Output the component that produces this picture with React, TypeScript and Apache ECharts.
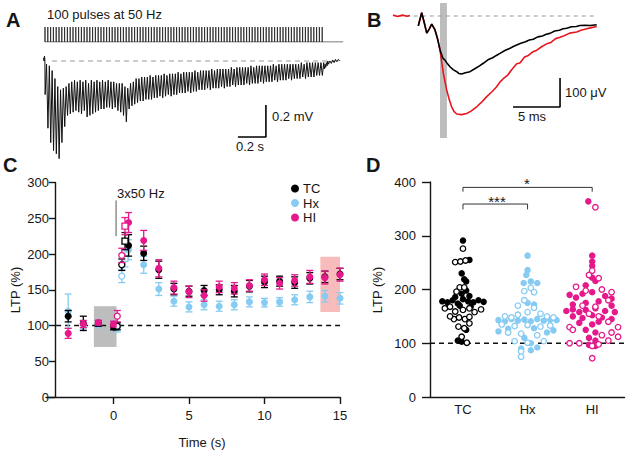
import React, { useEffect, useRef } from 'react';
import * as echarts from 'echarts';

const FONT = '"Liberation Sans", Arial, Helvetica, sans-serif';
const INK = '#161616';
const BLUE = '#86cbf2';
const PINK = '#e5198b';
const RED = '#e8161e';

// ---------- Panel A: 100 pulses at 50 Hz ----------
const PULSE_COUNT = 100;
const PULSE_INTERVAL_MS = 20;
// per-pulse trough (most negative) and recovery peak, mV
const traceTroughs = [
  -0.21, -0.42, -0.51, -0.56, -0.58, -0.61, -0.51, -0.41, -0.34, -0.33,
  -0.32, -0.31, -0.32, -0.33, -0.31, -0.35, -0.34, -0.33, -0.32, -0.31,
  -0.30, -0.30, -0.29, -0.29, -0.30, -0.29, -0.31, -0.32, -0.34, -0.38,
  -0.30, -0.28, -0.27, -0.26, -0.25, -0.25, -0.24, -0.24, -0.24, -0.23,
  -0.23, -0.22, -0.23, -0.22, -0.21, -0.22, -0.21, -0.21, -0.20, -0.20,
  -0.20, -0.19, -0.20, -0.19, -0.19, -0.18, -0.18, -0.18, -0.17, -0.18,
  -0.17, -0.17, -0.17, -0.16, -0.17, -0.16, -0.16, -0.15, -0.16, -0.15,
  -0.15, -0.15, -0.14, -0.15, -0.14, -0.14, -0.14, -0.13, -0.14, -0.13,
  -0.13, -0.13, -0.12, -0.13, -0.12, -0.12, -0.12, -0.11, -0.12, -0.11,
  -0.11, -0.11, -0.10, -0.11, -0.10, -0.10, -0.10, -0.09, -0.09, -0.09,
];
const tracePeaks = [
  -0.02, -0.03, -0.06, -0.11, -0.16, -0.18, -0.17, -0.16, -0.14, -0.13,
  -0.12, -0.13, -0.12, -0.13, -0.12, -0.14, -0.12, -0.13, -0.12, -0.13,
  -0.12, -0.13, -0.12, -0.13, -0.13, -0.14, -0.14, -0.14, -0.16, -0.17,
  -0.14, -0.13, -0.11, -0.11, -0.10, -0.10, -0.10, -0.09, -0.10, -0.09,
  -0.09, -0.09, -0.08, -0.09, -0.08, -0.08, -0.08, -0.07, -0.08, -0.07,
  -0.07, -0.07, -0.07, -0.06, -0.07, -0.06, -0.06, -0.06, -0.06, -0.05,
  -0.06, -0.05, -0.05, -0.05, -0.05, -0.05, -0.04, -0.05, -0.04, -0.04,
  -0.04, -0.04, -0.04, -0.03, -0.04, -0.03, -0.03, -0.03, -0.03, -0.03,
  -0.03, -0.02, -0.03, -0.02, -0.02, -0.02, -0.02, -0.02, -0.02, -0.02,
  -0.02, -0.01, -0.02, -0.01, -0.01, -0.01, -0.01, -0.01, -0.01, -0.01,
];
const traceStart = [[-10, 0.02], [-7, 0.0], [-4, 0.03], [-1, 0.01]];
const traceTail = [
  [1990, -0.03], [1995, -0.05], [2000, -0.02], [2005, -0.04], [2010, -0.01], [2015, -0.03],
  [2020, 0.0], [2025, -0.02], [2035, 0.0], [2045, -0.015], [2055, 0.005], [2065, -0.01],
  [2075, 0.01], [2085, -0.005], [2095, 0.01], [2105, 0.0],
];
const scaleBarA = [[1378, -0.475], [1578, -0.475], [1578, -0.275]];

// ---------- Panel B: fEPSP traces (ms, µV) ----------
const preRed = [[0, 3], [0.5, -2], [1, 3], [1.5, -1], [1.8, 2]];
const fepspRed = [
  [2.69, -34], [3.05, 11], [3.3, -20], [3.59, -59], [3.85, -45], [4.12, -28], [4.47, -48],
  [4.75, -80], [5.0, -117], [5.35, -197], [5.71, -255], [6.0, -290], [6.24, -313], [6.5, -330],
  [6.78, -338], [7.3, -340], [7.84, -336], [8.3, -328], [8.9, -313], [9.4, -298], [9.97, -278],
  [10.5, -262], [11.0, -245], [11.4, -227], [11.8, -214], [12.2, -204], [12.6, -186], [13.16, -165],
  [13.5, -162], [14.0, -141], [14.4, -136], [14.9, -123], [15.3, -118], [15.8, -106], [16.35, -96],
  [16.8, -91], [17.3, -78], [17.77, -73], [18.2, -68], [18.8, -59], [19.54, -55], [20.0, -49],
  [20.5, -45], [21.0, -41], [21.67, -36],
];
const fepspBlack = [
  [2.69, -34], [3.05, 11], [3.3, -20], [3.59, -59], [3.85, -45], [4.12, -28], [4.47, -48],
  [4.75, -80], [5.0, -117], [5.3, -145], [5.53, -152], [5.8, -165], [6.06, -175], [6.4, -185],
  [6.78, -192], [7.0, -198], [7.31, -200], [7.7, -196], [8.19, -192], [8.7, -182], [9.2, -172],
  [9.61, -163], [10.1, -151], [10.6, -144], [11.0, -136], [11.38, -129], [11.9, -119], [12.4, -112],
  [12.8, -105], [13.16, -100], [13.6, -94], [14.1, -89], [14.5, -83], [14.93, -80], [15.4, -72],
  [15.9, -69], [16.3, -63], [16.7, -60], [17.2, -52], [17.7, -49], [18.1, -44], [18.48, -42],
  [19.0, -37], [19.5, -36], [19.89, -33], [20.4, -32], [21.0, -33], [21.67, -30],
];
const scaleBarB = [[12.77, -314], [17.77, -314], [17.77, -214]];
const stimWindowB = [5.0, 5.74];

// ---------- Panel C: LTP time course ----------
const timePoints = [-3, -2, -1, 0, 1, 2, 3, 4, 5, 6, 7, 8, 9, 10, 11, 12, 13, 14, 15];
const tcMean = [113, 103, 103, 98, 212, 201, 178, 151, 148, 149, 150, 148, 155, 161, 162, 160, 166, 168, 172];
const tcSem = [8, 10, 4, 4, 15, 10, 12, 8, 7, 7, 7, 8, 8, 8, 7, 8, 8, 8, 8];
const hxMean = [120, 101, 101, 100, 206, 185, 151, 134, 126, 129, 127, 129, 133, 132, 133, 136, 140, 141, 138];
const hxSem = [24, 6, 4, 6, 14, 12, 9, 7, 7, 7, 7, 7, 7, 6, 6, 7, 8, 8, 8];
const hiMean = [89, 102, 104, 102, 244, 219, 180, 153, 147, 142, 154, 152, 156, 164, 159, 163, 168, 167, 171];
const hiSem = [7, 5, 3, 4, 14, 14, 12, 9, 8, 8, 8, 8, 8, 8, 8, 8, 9, 9, 9];
// responses to the three 50 Hz bursts (open symbols)
const burstTimes = [0.25, 0.55, 0.76];
const tcBurst = [99, 185, 218];
const tcBurstSem = [5, 8, 12];
const hxBurst = [97, 169, 194];
const hxBurstSem = [6, 9, 12];
const hiBurst = [113, 198, 239];
const hiBurstSem = [8, 10, 12];
const baselineWindow = [-1.3, 0.2, 70, 127];
const ltpWindow = [13.7, 15.1, 119, 196];
const stimMarkC = [[0.17, 275], [0.17, 225]];

// ---------- Panel D: individual LTP values [jitter, LTP %] ----------
const groups = ['TC', 'Hx', 'HI'];
const tcFilled = [[0, 291], [0.1, 255], [-0.02, 230], [0.02, 219], [0.05, 215], [0.05, 198], [-0.02, 192], [-0.32, 178], [-0.24, 176], [-0.16, 180], [-0.08, 174], [0, 182], [0.08, 178], [0.16, 176], [0.24, 180], [0.32, 177], [-0.12, 186], [0.1, 188], [-0.05, 170], [0.12, 168], [0.05, 125], [-0.08, 105], [-0.02, 103]];
const tcOpen = [[0, 276], [-0.12, 251], [-0.04, 252], [0.04, 254], [-0.05, 204], [0.02, 204], [-0.1, 196], [-0.28, 165], [-0.2, 168], [-0.12, 159], [0, 162], [0.1, 165], [0.18, 158], [0.28, 163], [-0.14, 145], [-0.06, 148], [0.03, 145], [0.1, 149], [-0.2, 150], [-0.07, 131], [0.02, 128], [0.06, 101], [0.1, 137], [-0.02, 112]];
const hxFilled = [[0, 263], [0, 236], [-0.02, 227], [0.05, 215], [0.15, 212], [-0.06, 212], [0.1, 172], [0, 175], [-0.45, 143], [-0.35, 141], [-0.25, 145], [-0.15, 142], [-0.05, 144], [0.05, 141], [0.15, 145], [0.25, 142], [0.35, 144], [0.45, 143], [-0.45, 122], [-0.3, 127], [0.1, 128], [0.3, 120], [0.4, 124], [-0.05, 110], [0.05, 100], [-0.1, 90], [0.05, 87], [0.15, 92]];
const hxOpen = [[0.05, 203], [-0.05, 197], [0.1, 195], [-0.05, 180], [-0.15, 170], [0.1, 166], [0, 158], [-0.35, 150], [-0.25, 148], [-0.15, 153], [0.2, 155], [0.3, 150], [0.4, 148], [-0.4, 135], [-0.2, 132], [0, 134], [0.2, 131], [0.35, 133], [-0.3, 120], [-0.1, 118], [0.15, 115], [-0.2, 104], [0.25, 104], [0, 101], [-0.1, 85], [-0.1, 75]];
const hiFilled = [[-0.06, 364], [0, 263], [0, 252], [0, 244], [0, 222], [0.05, 216], [-0.1, 208], [-0.35, 190], [-0.25, 185], [-0.15, 192], [0, 195], [0.2, 188], [0.3, 183], [-0.3, 172], [-0.1, 175], [0.1, 178], [0.3, 170], [-0.4, 160], [-0.3, 163], [-0.2, 158], [-0.1, 162], [0.05, 165], [0.2, 160], [0.35, 158], [-0.3, 150], [-0.15, 147], [0, 152], [0.15, 148], [0.3, 145], [-0.2, 138], [0, 135], [0.1, 140], [-0.1, 125], [0.05, 120], [-0.05, 110], [0.05, 105], [-0.05, 97], [0.05, 95]];
const hiOpen = [[0.05, 353], [0, 235], [-0.05, 227], [0.1, 221], [-0.25, 205], [0.15, 200], [0.3, 195], [-0.1, 198], [0.25, 180], [-0.15, 170], [0.05, 168], [-0.05, 155], [0.1, 150], [0.25, 140], [-0.35, 130], [0.4, 130], [-0.3, 125], [0.3, 120], [0.15, 115], [0.4, 112], [-0.35, 100], [-0.2, 100], [0.1, 98], [0.25, 105], [0, 95], [0, 72]];
const bracketTcHi = [[0, 382], [0, 390], [2, 390], [2, 382]];
const bracketTcHx = [[0, 349], [0, 359], [1, 359], [1, 349]];

function errRender(color: string, cap: number) {
  return (params: any, api: any) => {
    const x = api.value(0);
    const p1 = api.coord([x, api.value(1)]);
    const p2 = api.coord([x, api.value(2)]);
    const style = { stroke: color, lineWidth: 1.3 };
    return {
      type: 'group',
      children: [
        { type: 'line', shape: { x1: p1[0], y1: p1[1], x2: p2[0], y2: p2[1] }, style },
        { type: 'line', shape: { x1: p1[0] - cap, y1: p1[1], x2: p1[0] + cap, y2: p1[1] }, style },
        { type: 'line', shape: { x1: p2[0] - cap, y1: p2[1], x2: p2[0] + cap, y2: p2[1] }, style },
      ],
    };
  };
}

function errData(t: number[], m: number[], s: number[]) {
  return t.map((x, i) => [x, m[i] - s[i], m[i] + s[i]]);
}
function ptData(t: number[], m: number[]) {
  return t.map((x, i) => [x, m[i]]);
}

export default function App() {
  const ref = useRef<HTMLDivElement>(null);
  useEffect(() => {
    if (!ref.current) return;
    const chart = echarts.init(ref.current, undefined, { renderer: 'svg' });

    const traceA: number[][] = [...traceStart];
    for (let i = 0; i < PULSE_COUNT; i++) {
      const t = i * PULSE_INTERVAL_MS;
      traceA.push([t + 1, traceTroughs[i]]);
      traceA.push([t + 11, tracePeaks[i]]);
    }
    traceA.push(...traceTail);

    const stim: number[][] = [];
    for (let i = 0; i < PULSE_COUNT; i++) {
      const t = i * PULSE_INTERVAL_MS;
      stim.push([t, 0], [t, 1], [t, 0]);
    }
    stim.push([2130, 0]);

    const hiddenX = (gi: number, min: number, max: number) => ({
      type: 'value', gridIndex: gi, min, max, show: false,
    });
    const hiddenY = (gi: number, min: number, max: number) => ({
      type: 'value', gridIndex: gi, min, max, show: false,
    });
    const axisStyle = { lineStyle: { color: INK, width: 1.4 } };
    const labelStyle = { color: INK, fontSize: 13, fontFamily: FONT };

    const jit = (arr: number[][], g: number) => arr.map(([o, v]) => [g + o, v]);

    const txt = (x: number, y: number, text: string, extra: any = {}) => ({
      type: 'text', x, y,
      style: { text, fill: INK, font: `13px ${FONT}`, align: 'left', verticalAlign: 'middle', ...extra },
    });

    const C = { xAxisIndex: 3, yAxisIndex: 3 };
    const D = { xAxisIndex: 4, yAxisIndex: 4 };
    const filled = (c: string) => ({ color: c, opacity: 1 });
    const openStyle = (c: string) => ({ color: '#fff', borderColor: c, borderWidth: 1.3, opacity: 1 });

    const option: any = {
      animation: false,
      backgroundColor: '#ffffff',
      grid: [
        { left: 42.2, top: 53, width: 301, height: 120 },
        { left: 42.2, top: 27, width: 301, height: 15 },
        { left: 393, top: 1.5, width: 206.8, height: 145 },
        { left: 46, top: 182.5, width: 294, height: 214.5 },
        { left: 430, top: 182, width: 194.5, height: 215 },
      ],
      xAxis: [
        hiddenX(0, -20, 2130),
        hiddenX(1, -20, 2130),
        hiddenX(2, 0, 22),
        {
          type: 'value', gridIndex: 3, min: -4.47, max: 15,
          axisLine: { show: true, onZero: false, ...axisStyle },
          axisTick: { show: true, length: 7, customValues: [0, 5, 10, 15], lineStyle: { color: INK, width: 1.4 } },
          axisLabel: { ...labelStyle, margin: 12, customValues: [0, 5, 10, 15] },
          splitLine: { show: false },
        },
        {
          type: 'value', gridIndex: 4, min: -0.51, max: 2.5,
          axisLine: { show: true, onZero: false, ...axisStyle },
          axisTick: { show: false },
          axisLabel: { ...labelStyle, margin: 6, customValues: [0, 1, 2], formatter: (v: number) => groups[Math.round(v)] },
          splitLine: { show: false },
        },
      ],
      yAxis: [
        hiddenY(0, -0.7, 0.05),
        hiddenY(1, 0, 1),
        hiddenY(2, -450, 50),
        {
          type: 'value', gridIndex: 3, min: 0, max: 300, interval: 50, offset: -9,
          axisLine: { show: true, onZero: false, ...axisStyle },
          axisTick: { show: true, length: 6, lineStyle: { color: INK, width: 1.4 } },
          axisLabel: { ...labelStyle, margin: 6 },
          splitLine: { show: false },
        },
        {
          type: 'value', gridIndex: 4, min: 0, max: 400, interval: 100,
          axisLine: { show: true, onZero: false, ...axisStyle },
          axisTick: { show: true, length: 8, lineStyle: { color: INK, width: 1.4 } },
          axisLabel: { ...labelStyle, margin: 14 },
          splitLine: { show: false },
        },
      ],
      legend: {
        data: ['TC', 'Hx', 'HI'],
        orient: 'vertical',
        left: 286, top: 177,
        itemWidth: 8, itemHeight: 8, itemGap: 1.5,
        icon: 'circle',
        textStyle: { color: INK, fontSize: 13, fontFamily: FONT, padding: [0, 0, 0, -1] },
        selectedMode: false,
      },
      graphic: [
        txt(6, 20, 'A', { font: `bold 20px ${FONT}` }),
        txt(47, 14, '100 pulses at 50 Hz'),
        txt(272, 116, '0.2 mV'),
        txt(250, 146, '0.2 s', { align: 'center' }),
        txt(367, 20, 'B', { font: `bold 20px ${FONT}` }),
        txt(565, 92, '100 \u03bcV'),
        txt(532, 116, '5 ms', { align: 'center' }),
        txt(3, 165, 'C', { font: `bold 20px ${FONT}` }),
        txt(117, 193, '3x50 Hz'),
        { type: 'text', x: 15, y: 290, rotation: Math.PI / 2,
          style: { text: 'LTP (%)', fill: INK, font: `13px ${FONT}`, align: 'center', verticalAlign: 'middle' } },
        txt(202, 442, 'Time (s)', { align: 'center' }),
        txt(366, 165, 'D', { font: `bold 20px ${FONT}` }),
        { type: 'text', x: 377, y: 290, rotation: Math.PI / 2,
          style: { text: 'LTP (%)', fill: INK, font: `13px ${FONT}`, align: 'center', verticalAlign: 'middle' } },
        txt(527, 183, '*', { align: 'center', font: `15px ${FONT}` }),
        txt(497, 201, '***', { align: 'center', font: `15px ${FONT}` }),
      ],
      series: [
        // Panel A
        { type: 'line', xAxisIndex: 0, yAxisIndex: 0, data: [[50, 0], [2110, 0]], symbol: 'none',
          lineStyle: { color: '#9a9a9a', width: 1, type: [5, 4] } },
        { type: 'line', xAxisIndex: 0, yAxisIndex: 0, data: traceA, symbol: 'none',
          lineStyle: { color: '#111', width: 1 } },
        { type: 'line', xAxisIndex: 0, yAxisIndex: 0, data: scaleBarA, symbol: 'none',
          lineStyle: { color: '#000', width: 1.6 } },
        { type: 'line', xAxisIndex: 1, yAxisIndex: 1, data: stim, symbol: 'none',
          lineStyle: { color: '#222', width: 0.8 } },
        // Panel B
        { type: 'line', xAxisIndex: 2, yAxisIndex: 2, data: [[0.5, 0], [21.7, 0]], symbol: 'none', z: 1,
          lineStyle: { color: '#9a9a9a', width: 1, type: [4, 4] },
          markArea: { silent: true, itemStyle: { color: '#bdbdbd' },
            data: [[{ xAxis: stimWindowB[0], yAxis: 45 }, { xAxis: stimWindowB[1], yAxis: -421 }]] } },
        { type: 'line', xAxisIndex: 2, yAxisIndex: 2, data: preRed, symbol: 'none',
          lineStyle: { color: RED, width: 1.6 } },
        { type: 'line', xAxisIndex: 2, yAxisIndex: 2, data: fepspRed, symbol: 'none',
          lineStyle: { color: RED, width: 1.6 } },
        { type: 'line', xAxisIndex: 2, yAxisIndex: 2, data: fepspBlack, symbol: 'none',
          lineStyle: { color: '#000', width: 1.6 } },
        { type: 'line', xAxisIndex: 2, yAxisIndex: 2, data: scaleBarB, symbol: 'none',
          lineStyle: { color: '#000', width: 1.6 } },
        // Panel C
        { type: 'line', ...C, data: [[-3.8, 100], [15, 100]], symbol: 'none', z: 1,
          lineStyle: { color: '#111', width: 1.3, type: [5, 4] },
          markArea: { silent: true,
            data: [
              [{ xAxis: baselineWindow[0], yAxis: baselineWindow[2], itemStyle: { color: '#bdbdbd' } },
               { xAxis: baselineWindow[1], yAxis: baselineWindow[3] }],
              [{ xAxis: ltpWindow[0], yAxis: ltpWindow[2], itemStyle: { color: '#f9bcbc' } },
               { xAxis: ltpWindow[1], yAxis: ltpWindow[3] }],
            ] } },
        { type: 'line', ...C, data: stimMarkC, symbol: 'none', lineStyle: { color: '#555', width: 1 } },
        // Hx
        { type: 'custom', ...C, renderItem: errRender(BLUE, 3.5),
          data: errData(timePoints, hxMean, hxSem), encode: { x: 0, y: [1, 2] }, z: 2 },
        { type: 'custom', ...C, renderItem: errRender(BLUE, 3.5),
          data: errData(burstTimes, hxBurst, hxBurstSem), encode: { x: 0, y: [1, 2] }, z: 2 },
        { name: 'Hx', type: 'scatter', ...C, data: ptData(timePoints, hxMean),
          symbol: 'circle', symbolSize: 7, itemStyle: filled(BLUE), z: 3 },
        { type: 'scatter', ...C, data: ptData(burstTimes.slice(0, 2), hxBurst.slice(0, 2)),
          symbol: 'circle', symbolSize: 6, itemStyle: openStyle(BLUE), z: 3 },
        { type: 'scatter', ...C, data: ptData(burstTimes.slice(2), hxBurst.slice(2)),
          symbol: 'rect', symbolSize: 6, itemStyle: openStyle(BLUE), z: 3 },
        // TC
        { type: 'custom', ...C, renderItem: errRender('#000', 3.5),
          data: errData(timePoints, tcMean, tcSem), encode: { x: 0, y: [1, 2] }, z: 4 },
        { type: 'custom', ...C, renderItem: errRender('#000', 3.5),
          data: errData(burstTimes, tcBurst, tcBurstSem), encode: { x: 0, y: [1, 2] }, z: 4 },
        { name: 'TC', type: 'scatter', ...C, data: ptData(timePoints, tcMean),
          symbol: 'circle', symbolSize: 7, itemStyle: filled('#000'), z: 5 },
        { type: 'scatter', ...C, data: ptData(burstTimes.slice(0, 2), tcBurst.slice(0, 2)),
          symbol: 'circle', symbolSize: 6, itemStyle: openStyle('#000'), z: 5 },
        { type: 'scatter', ...C, data: ptData(burstTimes.slice(2), tcBurst.slice(2)),
          symbol: 'rect', symbolSize: 6, itemStyle: openStyle('#000'), z: 5 },
        // HI
        { type: 'custom', ...C, renderItem: errRender(PINK, 3.5),
          data: errData(timePoints, hiMean, hiSem), encode: { x: 0, y: [1, 2] }, z: 6 },
        { type: 'custom', ...C, renderItem: errRender(PINK, 3.5),
          data: errData(burstTimes, hiBurst, hiBurstSem), encode: { x: 0, y: [1, 2] }, z: 6 },
        { name: 'HI', type: 'scatter', ...C, data: ptData(timePoints, hiMean),
          symbol: 'circle', symbolSize: 7, itemStyle: filled(PINK), z: 7 },
        { type: 'scatter', ...C, data: ptData(burstTimes.slice(0, 2), hiBurst.slice(0, 2)),
          symbol: 'circle', symbolSize: 6, itemStyle: openStyle(PINK), z: 7 },
        { type: 'scatter', ...C, data: ptData(burstTimes.slice(2), hiBurst.slice(2)),
          symbol: 'rect', symbolSize: 6, itemStyle: openStyle(PINK), z: 7 },
        // Panel D
        { type: 'line', ...D, data: [[-0.51, 100], [2.5, 100]], symbol: 'none', z: 1,
          lineStyle: { color: '#111', width: 1.3, type: [5, 4] } },
        { type: 'scatter', ...D, data: jit(tcFilled, 0), symbolSize: 6.5, itemStyle: filled('#000') },
        { type: 'scatter', ...D, data: jit(tcOpen, 0), symbolSize: 5.5, itemStyle: openStyle('#000') },
        { type: 'scatter', ...D, data: jit(hxFilled, 1), symbolSize: 6.5, itemStyle: filled(BLUE) },
        { type: 'scatter', ...D, data: jit(hxOpen, 1), symbolSize: 5.5, itemStyle: openStyle(BLUE) },
        { type: 'scatter', ...D, data: jit(hiFilled, 2), symbolSize: 6.5, itemStyle: filled(PINK) },
        { type: 'scatter', ...D, data: jit(hiOpen, 2), symbolSize: 5.5, itemStyle: openStyle(PINK) },
        { type: 'line', ...D, data: bracketTcHi, symbol: 'none', lineStyle: { color: '#333', width: 1 } },
        { type: 'line', ...D, data: bracketTcHx, symbol: 'none', lineStyle: { color: '#333', width: 1 } },
      ],
    };
    chart.setOption(option);
    return () => chart.dispose();
  }, []);
  return (
    <div
      ref={ref}
      style={{ position: 'fixed', left: 0, top: 0, width: 627, height: 453, background: '#fff' }}
    />
  );
}
